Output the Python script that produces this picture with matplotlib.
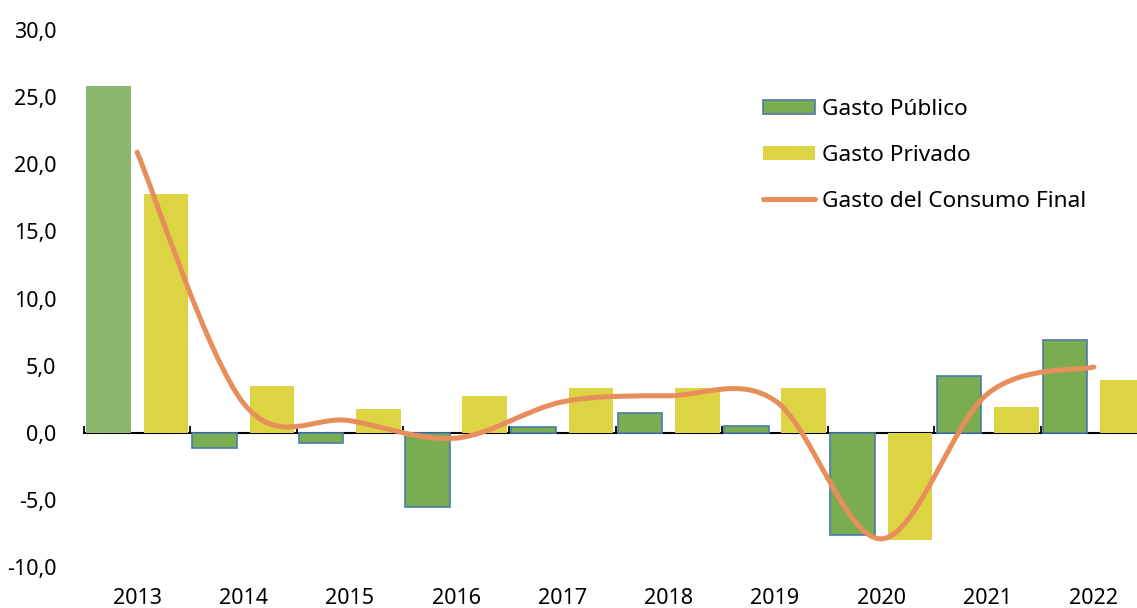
import matplotlib
matplotlib.use('Agg')
import matplotlib.pyplot as plt
from matplotlib.path import Path
from matplotlib.patches import PathPatch, Patch
from matplotlib.lines import Line2D
import numpy as np

plt.rcParams['font.family'] = ['Noto Sans', 'DejaVu Sans']

# values
years = ['2013', '2014', '2015', '2016', '2017', '2018', '2019', '2020', '2021', '2022']
gastoPublico = [25.8, -1.1, -0.8, -5.5, 0.4, 1.5, 0.5, -7.6, 4.2, 6.9]
gastoPrivado = [17.8, 3.5, 1.8, 2.75, 3.3, 3.3, 3.3, -8.0, 1.9, 3.9]
consumoFinal = [20.9, 2.2, 0.9, -0.4, 2.3, 2.75, 2.4, -7.9, 2.9, 4.9]
yTicks = [-10, -5, 0, 5, 10, 15, 20, 25, 30]

greenColor = '#7aad52'
greenLight = '#8bb66b'
edgeColor = '#4a7ca8'
yellowColor = '#ddd444'
orangeColor = '#e88e5a'

fig = plt.figure(figsize=(11.37, 6.08), dpi=100)
ax = fig.add_axes([84 / 1137, 1 - 567 / 608, 1063 / 1137, 537 / 608])

x = np.arange(len(years))
barWidth = 0.42

# first public bar is highlighted in a lighter green with no border
pubColors = [greenLight] + [greenColor] * (len(years) - 1)
pubEdges = ['none'] + [edgeColor] * (len(years) - 1)
ax.bar(x - 0.27, gastoPublico, barWidth, color=pubColors, edgecolor=pubEdges, linewidth=1.2, zorder=2)
ax.bar(x + 0.27, gastoPrivado, barWidth, color=yellowColor, linewidth=0, zorder=2)

# smoothed line (Catmull-Rom as cubic bezier, like Excel's smoothed line)
pts = np.column_stack([x, consumoFinal]).astype(float)
verts = [tuple(pts[0])]
codes = [Path.MOVETO]
for i in range(len(pts) - 1):
    p0 = pts[i - 1] if i > 0 else pts[i]
    p1 = pts[i]
    p2 = pts[i + 1]
    p3 = pts[i + 2] if i + 2 < len(pts) else pts[i + 1]
    c1 = p1 + (p2 - p0) / 6
    c2 = p2 - (p3 - p1) / 6
    verts += [tuple(c1), tuple(c2), tuple(p2)]
    codes += [Path.CURVE4] * 3
ax.add_patch(PathPatch(Path(verts, codes), facecolor='none', edgecolor=orangeColor,
                       linewidth=3.6, capstyle='round', joinstyle='round', zorder=3))

ax.set_xlim(-0.5, len(years) - 0.5)
ax.set_ylim(-10, 30)
ax.set_yticks(yTicks)
ax.set_yticklabels([f'{v:.1f}'.replace('.', ',') for v in yTicks])
ax.set_xticks(x)
ax.set_xticklabels(years)
ax.tick_params(axis='both', length=0, labelsize=15.5, colors='black')
ax.tick_params(axis='y', pad=20)
ax.tick_params(axis='x', pad=15)
for s in ax.spines.values():
    s.set_visible(False)

# category axis line at zero with boundary ticks
zeroAxis = ax.secondary_xaxis(0, transform=ax.transData)
zeroAxis.set_xticks(np.arange(-0.5, len(years), 1.0))
zeroAxis.tick_params(direction='in', length=5, width=1.3, labelbottom=False, color='black')
zeroAxis.spines['bottom'].set_linewidth(1.5)
zeroAxis.spines['bottom'].set_color('black')

handles = [
    Patch(facecolor=greenColor, edgecolor=edgeColor, linewidth=1.2),
    Patch(facecolor=yellowColor, edgecolor='none'),
    Line2D([], [], color=orangeColor, linewidth=3.6, solid_capstyle='round'),
]
labels = ['Gasto Público', 'Gasto Privado', 'Gasto del Consumo Final']
fig.legend(handles, labels, loc='upper left', bbox_to_anchor=(763 / 1137, 1 - 99 / 608),
           frameon=False, fontsize=16.3, handlelength=2.3, handleheight=0.6,
           handletextpad=0.3, labelspacing=1.1, borderpad=0, borderaxespad=0)

fig.savefig('out.png', dpi=100)
